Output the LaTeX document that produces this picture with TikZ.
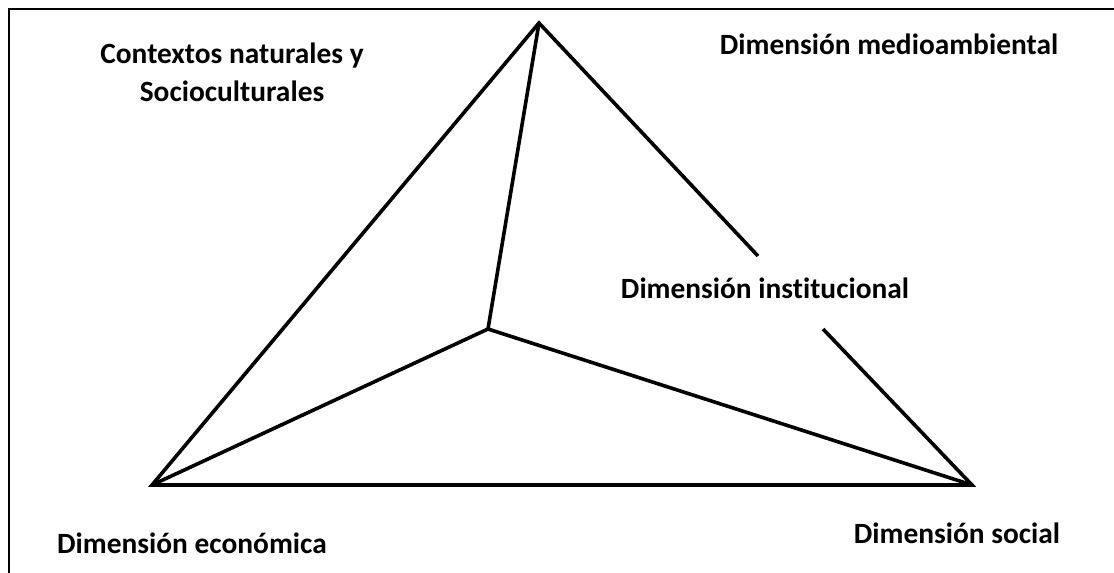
\documentclass[tikz,border=0pt]{standalone}
\usepackage{fontspec}
\setmainfont[Ligatures=NoCommon]{Carlito}
\usetikzlibrary{positioning}

\begin{document}
\begin{tikzpicture}[
x=0.5pt, y=-0.5pt,
frame/.style={draw, line width=0.75pt},
edge/.style={draw, line width=1.8pt, line join=miter},
dim/.style={font=\bfseries\fontsize{14.7}{19.2}\selectfont, align=center, inner sep=0pt}
]
\useasboundingbox (0,0) rectangle (1114,573);
\path [frame] (9,573) -- (9,9) -- (1114,9);

\coordinate (apex) at (539, 23);
\coordinate (inner) at (488, 329);
\coordinate (econ) at (152, 485);
\coordinate (social) at (972, 485);
\coordinate (gap-top) at (758, 256);
\coordinate (gap-bottom) at (823, 329);

\node[dim] (contextos) at (232, 72) {Contextos naturales y\\Socioculturales};
\node[dim] (medio) at (889, 44) {Dimensión medioambiental};
\node[dim] (institucional) at (765, 288) {Dimensión institucional};
\node[dim] (economica) at (192, 543) {Dimensión económica};
\node[dim] (sociallabel) at (957, 533) {Dimensión social};

\path [edge] (gap-top) -- (apex) -- (econ) -- (social) -- (gap-bottom);
\path [edge] (apex) -- (inner);
\path [edge] (econ) -- (inner) -- (social);
\end{tikzpicture}
\end{document}
